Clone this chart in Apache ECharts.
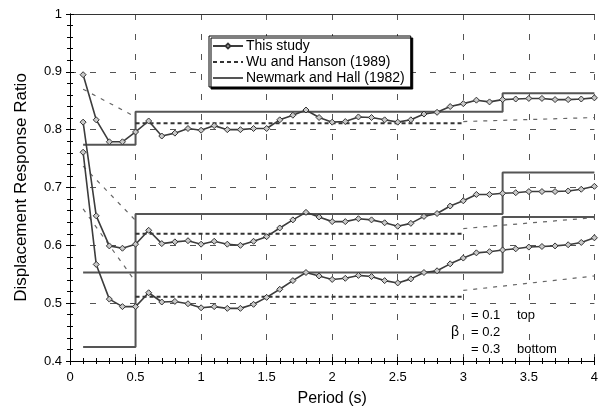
<!DOCTYPE html>
<html><head><meta charset="utf-8">
<script src="https://cdn.jsdelivr.net/npm/echarts@6/dist/echarts.min.js"></script>
<style>html,body{margin:0;padding:0;background:#fff}#c{width:601px;height:412px}</style>
</head><body><div id="c"></div>
<script>
// ---- data ----
var periods = [0.1,0.2,0.3,0.4,0.5,0.6,0.7,0.8,0.9,1.0,1.1,1.2,1.3,1.4,1.5,1.6,1.7,1.8,1.9,2.0,
               2.1,2.2,2.3,2.4,2.5,2.6,2.7,2.8,2.9,3.0,3.1,3.2,3.3,3.4,3.5,3.6,3.7,3.8,3.9,4.0];
var studyB01 = [0.895,0.817,0.779,0.779,0.796,0.815,0.789,0.794,0.802,0.799,0.807,0.800,0.800,0.802,0.802,0.817,0.825,0.834,0.821,0.813,
                0.814,0.822,0.821,0.817,0.813,0.817,0.827,0.830,0.840,0.845,0.851,0.848,0.852,0.853,0.854,0.854,0.852,0.852,0.853,0.855];
var studyB02 = [0.813,0.651,0.599,0.595,0.602,0.626,0.603,0.606,0.608,0.602,0.607,0.602,0.600,0.607,0.615,0.630,0.644,0.657,0.649,0.641,
                0.641,0.646,0.644,0.639,0.633,0.638,0.650,0.655,0.668,0.677,0.688,0.688,0.690,0.691,0.693,0.693,0.693,0.694,0.697,0.702];
var studyB03 = [0.761,0.567,0.507,0.494,0.494,0.518,0.502,0.503,0.499,0.492,0.494,0.491,0.491,0.498,0.510,0.524,0.539,0.553,0.547,0.541,
                0.543,0.548,0.546,0.539,0.535,0.542,0.553,0.556,0.568,0.578,0.587,0.589,0.592,0.594,0.597,0.598,0.599,0.601,0.605,0.613];

// Newmark and Hall (1982) step levels at break periods
var nhBreaks = [0.1, 0.5, 3.3, 4.0];
var nhB01 = [0.774, 0.831, 0.863, 0.863];
var nhB02 = [0.553, 0.654, 0.726, 0.726];
var nhB03 = [0.424, 0.553, 0.649, 0.649];

// Wu and Hanson (1989): short-period branch, plateau, long-period branch
var wuShortP = [0.1, 0.5];
var wuPlateauP = [0.5, 3.0];
var wuLongP = [3.0, 4.0];
var wuShortB01 = [0.870, 0.822], wuPlateauB01 = [0.811, 0.811], wuLongB01 = [0.814, 0.821];
var wuShortB02 = [0.737, 0.643], wuPlateauB02 = [0.620, 0.620], wuLongB02 = [0.629, 0.648];
var wuShortB03 = [0.663, 0.537], wuPlateauB03 = [0.511, 0.511], wuLongB03 = [0.522, 0.547];

var xTicks = [0, 0.5, 1, 1.5, 2, 2.5, 3, 3.5, 4];
var yTicks = [0.4, 0.5, 0.6, 0.7, 0.8, 0.9, 1];

function pairs(xs, ys){ return xs.map(function(x,i){ return [x, ys[i]]; }); }

var FONT = 'Liberation Sans, Arial, sans-serif';
var chart = echarts.init(document.getElementById('c'), null, {renderer:'canvas'});

function studySeries(vals){
  return {name:'This study', type:'line', xAxisIndex:0, yAxisIndex:0, data:pairs(periods, vals),
    symbol:'diamond', symbolSize:6, showSymbol:true,
    lineStyle:{color:'#3c3c3c', width:1.6},
    itemStyle:{color:'#c8c8c8', borderColor:'#333', borderWidth:1},
    z:5, animation:false};
}
var NOSYM = {color:'rgba(0,0,0,0)', borderColor:'rgba(0,0,0,0)', borderWidth:0};
function nhSeries(vals){
  return {name:'Newmark and Hall (1982)', type:'line', xAxisIndex:0, yAxisIndex:0, step:'end',
    data:pairs(nhBreaks, vals), symbol:'none', itemStyle:NOSYM,
    lineStyle:{color:'#555', width:2}, z:3, animation:false};
}
function wuHeavy(vals){
  return {name:'Wu and Hanson (1989)', type:'line', xAxisIndex:0, yAxisIndex:0,
    data:pairs(wuPlateauP, vals), symbol:'none', itemStyle:NOSYM,
    lineStyle:{color:'#333', width:2, type:[4,3]}, z:4, animation:false};
}
function wuThin(xs, vals){
  return {name:'Wu and Hanson (1989)', type:'line', xAxisIndex:0, yAxisIndex:0,
    data:pairs(xs, vals), symbol:'none', itemStyle:NOSYM,
    lineStyle:{color:'#666', width:1.2, type:[4,6]}, z:2, animation:false};
}

var axisCommonX = {type:'value', min:0, max:4, interval:0.5};
var axisCommonY = {type:'value', min:0.4, max:1, interval:0.1};

var option = {
  backgroundColor:'#fff',
  animation:false,
  grid:{left:70, right:4, top:14, bottom:48},
  legend:{
    data:['This study','Wu and Hanson (1989)','Newmark and Hall (1982)'],
    orient:'vertical', left:209, top:36,
    itemWidth:30, itemHeight:6, itemGap:2,
    padding:[3,6,2,3],
    backgroundColor:'#fff', borderColor:'#000', borderWidth:1,
    shadowColor:'#000', shadowBlur:0, shadowOffsetX:2, shadowOffsetY:2,
    textStyle:{fontFamily:FONT, fontSize:14, color:'#000', padding:[0,0,0,-2]}
  },
  xAxis:[
    Object.assign({}, axisCommonX, {position:'bottom',
      name:'Period (s)', nameLocation:'middle', nameGap:30,
      nameTextStyle:{fontFamily:FONT, fontSize:16, color:'#000'},
      axisLine:{lineStyle:{color:'#000', width:1}},
      axisTick:{show:true, inside:false, length:4, lineStyle:{color:'#000'}},
      minorTick:{show:true, splitNumber:5, length:3, lineStyle:{color:'#000'}},
      axisLabel:{fontFamily:FONT, fontSize:13, color:'#000', margin:10,
        formatter:function(v){ return xTicks.indexOf(v) >= 0 ? String(v) : ''; }},
      splitLine:{show:true, lineStyle:{color:'#555', width:1, type:[6,14]}}
    }),
    Object.assign({}, axisCommonX, {position:'bottom',
      axisLine:{show:false},
      axisTick:{show:true, inside:true, length:4, lineStyle:{color:'#000'}},
      minorTick:{show:true, splitNumber:5, length:3, lineStyle:{color:'#000'}},
      axisLabel:{show:false}, splitLine:{show:false}
    }),
    Object.assign({}, axisCommonX, {position:'top',
      axisLine:{show:true, lineStyle:{color:'#333', width:1}},
      axisTick:{show:false}, axisLabel:{show:false}, splitLine:{show:false}
    })
  ],
  yAxis:[
    Object.assign({}, axisCommonY, {position:'left',
      name:'Displacement Response Ratio', nameLocation:'middle', nameGap:40,
      nameTextStyle:{fontFamily:FONT, fontSize:17, color:'#000'},
      axisLine:{show:true, lineStyle:{color:'#000', width:1}},
      axisTick:{show:true, inside:false, length:4, lineStyle:{color:'#000'}},
      minorTick:{show:true, splitNumber:5, length:3, lineStyle:{color:'#000'}},
      axisLabel:{fontFamily:FONT, fontSize:13, color:'#000', margin:8,
        formatter:function(v){ var r = Math.round(v*10)/10; return yTicks.indexOf(r) >= 0 ? String(r) : ''; }},
      splitLine:{show:true, lineStyle:{color:'#555', width:1, type:[6,14]}}
    }),
    Object.assign({}, axisCommonY, {position:'left',
      axisLine:{show:false},
      axisTick:{show:true, inside:true, length:4, lineStyle:{color:'#000'}},
      minorTick:{show:true, splitNumber:5, length:3, lineStyle:{color:'#000'}},
      axisLabel:{show:false}, splitLine:{show:false}
    }),
    Object.assign({}, axisCommonY, {position:'right',
      axisLine:{show:true, lineStyle:{color:'#000', width:1}},
      axisTick:{show:false}, axisLabel:{show:false}, splitLine:{show:false}
    })
  ],
  series:[
    studySeries(studyB01), studySeries(studyB02), studySeries(studyB03),
    wuHeavy(wuPlateauB01), wuHeavy(wuPlateauB02), wuHeavy(wuPlateauB03),
    wuThin(wuShortP, wuShortB01), wuThin(wuShortP, wuShortB02), wuThin(wuShortP, wuShortB03),
    wuThin(wuLongP, wuLongB01), wuThin(wuLongP, wuLongB02), wuThin(wuLongP, wuLongB03),
    nhSeries(nhB01), nhSeries(nhB02), nhSeries(nhB03)
  ],
  graphic:[
    {type:'text', left:471, top:309, style:{text:'= 0.1', font:'13px ' + FONT, fill:'#000'}},
    {type:'text', left:517, top:309, style:{text:'top', font:'13px ' + FONT, fill:'#000'}},
    {type:'text', left:451, top:325, style:{text:'β', font:'14px ' + FONT, fill:'#000'}},
    {type:'text', left:471, top:326, style:{text:'= 0.2', font:'13px ' + FONT, fill:'#000'}},
    {type:'text', left:471, top:343, style:{text:'= 0.3', font:'13px ' + FONT, fill:'#000'}},
    {type:'text', left:517, top:343, style:{text:'bottom', font:'13px ' + FONT, fill:'#000'}}
  ]
};
chart.setOption(option);
</script>
</body></html>
